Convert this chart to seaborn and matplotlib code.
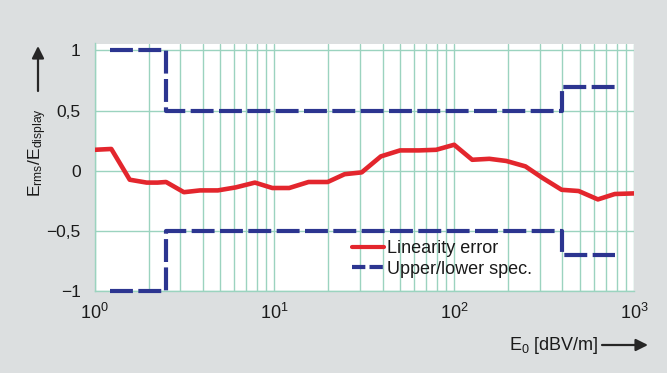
import matplotlib
matplotlib.use("Agg")
import matplotlib.pyplot as plt
import matplotlib.ticker as mticker
import numpy as np
import pandas as pd
import seaborn as sns

# Measured linearity error of the field-strength display
field_strength = [1.0, 1.24, 1.57, 1.95, 2.24, 2.5, 3.14, 3.86, 4.85, 6.1, 7.8,
                  9.75, 12.1, 15.5, 19.8, 24.6, 30.6, 39.1, 50, 63.8, 79.4,
                  100, 126, 157, 195, 249, 309, 396, 492, 630, 782, 1000]
linearity_error = [0.173, 0.18, -0.076, -0.10, -0.10, -0.095, -0.18, -0.165,
                   -0.165, -0.14, -0.10, -0.145, -0.145, -0.095, -0.095, -0.03,
                   -0.015, 0.118, 0.168, 0.168, 0.173, 0.215, 0.09, 0.098, 0.08,
                   0.035, -0.06, -0.16, -0.17, -0.24, -0.195, -0.19]

# Specification limits (piecewise constant between band edges)
spec_edges = [1.22, 2.5, 400, 780]
spec_upper = [1.0, 0.5, 0.7]
spec_lower = [-1.0, -0.5, -0.7]

ytick_values = [-1, -0.5, 0, 0.5, 1]
ytick_labels = ["\u22121", "\u22120,5", "0", "0,5", "1"]

RED = "#e3262d"
BLUE = "#2c3590"
GRID = "#9bd3bf"
BG = "#dcdfe0"

sns.set_theme(style="white")
plt.rcParams["font.family"] = ["Liberation Sans", "DejaVu Sans"]
plt.rcParams["mathtext.fontset"] = "custom"
plt.rcParams["mathtext.rm"] = "Liberation Sans"
plt.rcParams["mathtext.it"] = "Liberation Sans"
plt.rcParams["mathtext.default"] = "regular"

W, H = 667, 373
fig = plt.figure(figsize=(W / 100, H / 100), dpi=100, facecolor=BG)
ax_left, ax_right = 94.5 / W, 634 / W
ax_top, ax_bottom = 1 - 43.5 / H, 1 - 290.7 / H
ax = fig.add_axes([ax_left, ax_bottom, ax_right - ax_left, ax_top - ax_bottom])
ax.set_facecolor("white")

err = pd.DataFrame({"E0": field_strength, "err": linearity_error})
sns.lineplot(data=err, x="E0", y="err", ax=ax, color=RED, lw=3.3,
             label="Linearity error", solid_joinstyle="round", zorder=3)


def step_frame(edges, values):
    return pd.DataFrame({"E0": edges, "v": list(values) + [values[-1]]})


sns.lineplot(data=step_frame(spec_edges, spec_upper), x="E0", y="v", ax=ax,
             color=BLUE, lw=3.0, drawstyle="steps-post",
             label="Upper/lower spec.", zorder=3, clip_on=False)
sns.lineplot(data=step_frame(spec_edges, spec_lower), x="E0", y="v", ax=ax,
             color=BLUE, lw=3.0, drawstyle="steps-post", zorder=3, clip_on=False)
for line in ax.lines[1:]:
    line.set_dashes((5.5, 1.3))
    line.set_dash_capstyle("butt")

ax.set_xscale("log")
ax.set_xlim(1, 1000)
ax.set_ylim(-1, 1.058)
ax.set_yticks(ytick_values)
ax.yaxis.set_major_formatter(mticker.FixedFormatter(ytick_labels))
ax.xaxis.set_major_locator(mticker.LogLocator(base=10))
ax.xaxis.set_minor_locator(mticker.LogLocator(base=10, subs=np.arange(2, 10)))
ax.xaxis.set_minor_formatter(mticker.NullFormatter())

ax.grid(True, which="major", axis="both", color=GRID, lw=1.0)
ax.grid(True, which="minor", axis="x", color=GRID, lw=1.0)
ax.tick_params(axis="both", which="both", direction="out", color=GRID,
               labelcolor="#1a1a1a", labelsize=12.5)
ax.tick_params(axis="y", which="major", length=7, width=1, pad=3)
ax.tick_params(axis="x", which="both", length=5, width=1, pad=4)
ax.tick_params(axis="x", which="major", labelsize=13)
for side in ("top", "right"):
    ax.spines[side].set_visible(False)
for side in ("left", "bottom"):
    ax.spines[side].set_color(GRID)
    ax.spines[side].set_linewidth(1.0)
ax.set_xlabel("")
ax.set_ylabel("")

leg = ax.legend(loc="upper left", bbox_to_anchor=(352 / W, 1 - 240 / H),
                bbox_transform=fig.transFigure, frameon=False, fontsize=13,
                handlelength=1.75, handletextpad=0.2, labelspacing=0.2,
                borderpad=0, borderaxespad=0)
for h in leg.get_lines():
    h.set_linewidth(3.0)
leg.get_lines()[1].set_dashes((3.2, 1.0))
for t in leg.get_texts():
    t.set_color("#1a1a1a")

# Axis captions with direction arrows
fig.text(38 / W, 1 - 153 / H, r"E$_{rms}$/E$_{display}$", rotation=90,
         ha="center", va="center", fontsize=12.5, color="#1a1a1a")
ax.annotate("", xy=(38 / W, 1 - 46 / H), xytext=(38 / W, 1 - 91 / H),
            xycoords="figure fraction", textcoords="figure fraction",
            arrowprops=dict(arrowstyle="-|>", color="#262626", lw=1.6,
                            mutation_scale=18, shrinkA=0, shrinkB=0))
fig.text(598 / W, 1 - 345 / H, r"E$_0$ [dBV/m]", ha="right", va="center",
         fontsize=13, color="#1a1a1a")
ax.annotate("", xy=(648 / W, 1 - 345 / H), xytext=(602 / W, 1 - 345 / H),
            xycoords="figure fraction", textcoords="figure fraction",
            arrowprops=dict(arrowstyle="-|>", color="#262626", lw=1.6,
                            mutation_scale=18, shrinkA=0, shrinkB=0))

fig.savefig("out.png", dpi=100, facecolor=BG)
